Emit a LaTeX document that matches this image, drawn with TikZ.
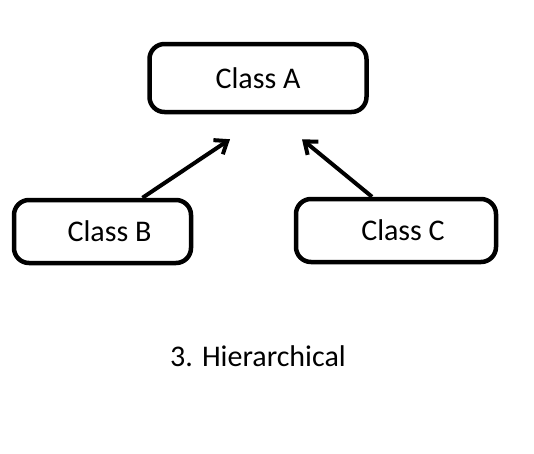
\documentclass[tikz,border=0pt]{standalone}
\usepackage{fontspec}
\setmainfont{Carlito}
\usetikzlibrary{arrows.meta,positioning}

\tikzset{
  classbox/.style={draw, line width=4.5pt, rounded corners=15pt, inner sep=0pt,
    minimum height=63pt, font=\fontsize{30}{35}\selectfont},
  inherit/.style={line width=4pt, -{Straight Barb[length=11pt,width=17pt,line width=4pt]}}
}

\begin{document}
\begin{tikzpicture}[x=1pt, y=-1pt]
\useasboundingbox (0,0) rectangle (534,453);

%Parent
\node[classbox, minimum width=217pt, minimum height=68pt] (classA) at (258,78) {Class A};

%Children
\node[classbox, minimum width=177pt] (classB) at (102.5,231.5) {\hspace*{14pt}Class B};
\node[classbox, minimum width=200pt] (classC) at (396,230.5) {\hspace*{14pt}Class C};

%Arrows
\coordinate (tipB) at ([xshift=-28pt, yshift=-25pt]classA.south);
\coordinate (tipC) at ([xshift=44pt, yshift=-25pt]classA.south);
\draw[inherit] ([xshift=40pt]classB.north) -- (tipB);
\draw[inherit] ([xshift=-24pt]classC.north) -- (tipC);

%Caption
\node[font=\fontsize{30}{35}\selectfont] (caption) at (258,356) {3. Hierarchical};
\end{tikzpicture}
\end{document}
